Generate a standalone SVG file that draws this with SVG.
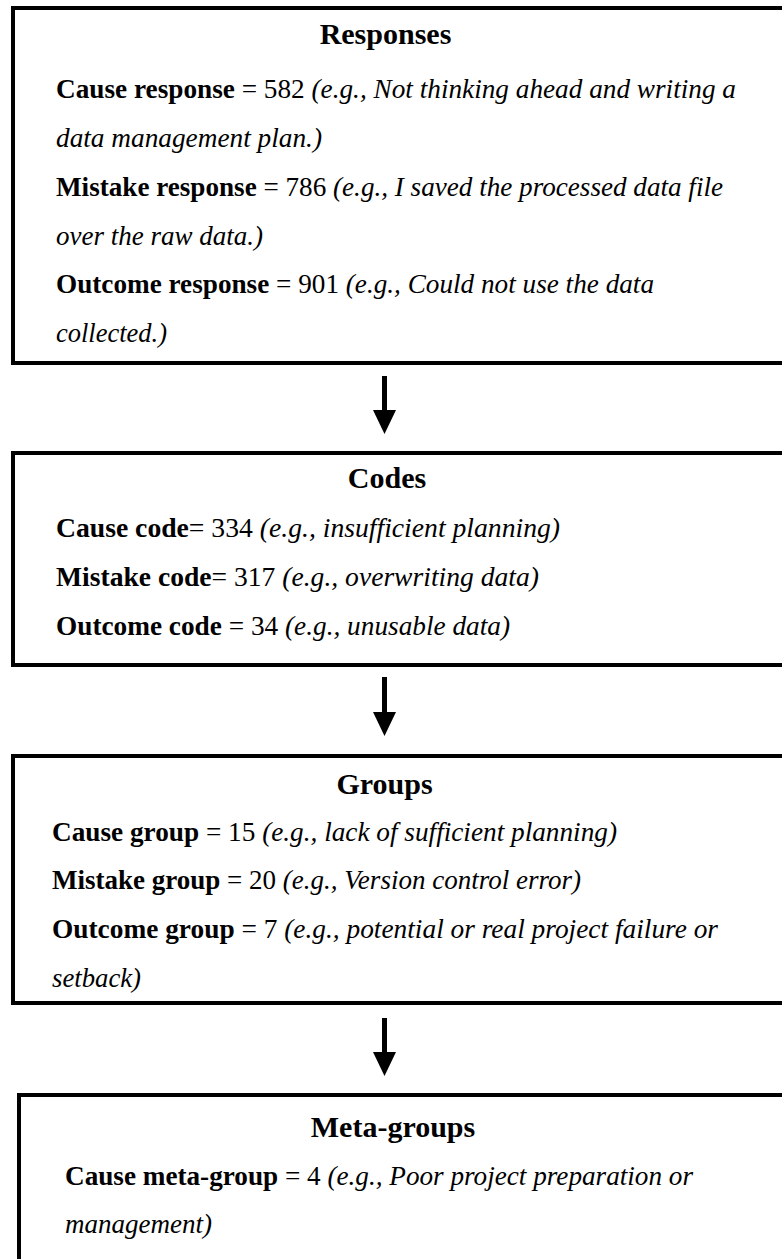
<svg xmlns="http://www.w3.org/2000/svg" width="782" height="1259" viewBox="0 0 782 1259">
<style>
.box{fill:#fff;stroke:#000;stroke-width:4}
.h{font-family:"Liberation Serif","Times New Roman",serif;font-size:30px;font-weight:bold;text-anchor:middle;fill:#000}
.t{font-family:"Liberation Serif","Times New Roman",serif;font-size:27px;fill:#000}
.b{font-weight:bold}
.i{font-style:italic}
.conn{stroke:#000;stroke-width:5;fill:none}
</style>
<defs>
<marker id="ah" markerUnits="userSpaceOnUse" viewBox="0 -12 24 24" markerWidth="24" markerHeight="24" refX="0" refY="0" orient="auto" overflow="visible">
<path d="M0,-11.5 L24,0 L0,11.5 Z" fill="#000"/>
</marker>
</defs>
<rect width="782" height="1259" fill="#fff"/>
<g id="responses">
<rect class="box" x="13" y="8" width="800" height="355"/>
<text class="h" x="385.5" y="44">Responses</text>
<text class="t" x="56" y="98" textLength="680" lengthAdjust="spacingAndGlyphs"><tspan class="b">Cause response</tspan> = 582 <tspan class="i">(e.g., Not thinking ahead and writing a</tspan></text>
<text class="t i" x="56" y="147" textLength="266" lengthAdjust="spacingAndGlyphs">data management plan.)</text>
<text class="t" x="56" y="196" textLength="667" lengthAdjust="spacingAndGlyphs"><tspan class="b">Mistake response</tspan> = 786 <tspan class="i">(e.g., I saved the processed data file</tspan></text>
<text class="t i" x="56" y="245" textLength="207" lengthAdjust="spacingAndGlyphs">over the raw data.)</text>
<text class="t" x="56" y="293" textLength="598" lengthAdjust="spacingAndGlyphs"><tspan class="b">Outcome response</tspan> = 901 <tspan class="i">(e.g., Could not use the data</tspan></text>
<text class="t i" x="56" y="342" textLength="111" lengthAdjust="spacingAndGlyphs">collected.)</text>
</g>
<g id="codes">
<rect class="box" x="13" y="453" width="800" height="212"/>
<text class="h" x="387" y="488">Codes</text>
<text class="t" x="56" y="537" textLength="504" lengthAdjust="spacingAndGlyphs"><tspan class="b">Cause code</tspan>= 334 <tspan class="i">(e.g., insufficient planning)</tspan></text>
<text class="t" x="56" y="586" textLength="483" lengthAdjust="spacingAndGlyphs"><tspan class="b">Mistake code</tspan>= 317 <tspan class="i">(e.g., overwriting data)</tspan></text>
<text class="t" x="56" y="635" textLength="454" lengthAdjust="spacingAndGlyphs"><tspan class="b">Outcome code</tspan> = 34 <tspan class="i">(e.g., unusable data)</tspan></text>
</g>
<g id="groups">
<rect class="box" x="13" y="756" width="800" height="247"/>
<text class="h" x="384.5" y="794">Groups</text>
<text class="t" x="52" y="841" textLength="565" lengthAdjust="spacingAndGlyphs"><tspan class="b">Cause group</tspan> = 15 <tspan class="i">(e.g., lack of sufficient planning)</tspan></text>
<text class="t" x="52" y="889" textLength="529" lengthAdjust="spacingAndGlyphs"><tspan class="b">Mistake group</tspan> = 20 <tspan class="i">(e.g., Version control error)</tspan></text>
<text class="t" x="52" y="938" textLength="666" lengthAdjust="spacingAndGlyphs"><tspan class="b">Outcome group</tspan> = 7 <tspan class="i">(e.g., potential or real project failure or</tspan></text>
<text class="t i" x="52" y="987" textLength="89" lengthAdjust="spacingAndGlyphs">setback)</text>
</g>
<g id="metagroups">
<rect class="box" x="19" y="1095" width="800" height="220"/>
<text class="h" x="393" y="1137">Meta-groups</text>
<text class="t" x="65" y="1185" textLength="628" lengthAdjust="spacingAndGlyphs"><tspan class="b">Cause meta-group</tspan> = 4 <tspan class="i">(e.g., Poor project preparation or</tspan></text>
<text class="t i" x="65" y="1233" textLength="147" lengthAdjust="spacingAndGlyphs">management)</text>
</g>
<g id="connectors">
<line class="conn" x1="384.5" y1="376" x2="384.5" y2="410" marker-end="url(#ah)"/>
<line class="conn" x1="384.5" y1="677" x2="384.5" y2="712" marker-end="url(#ah)"/>
<line class="conn" x1="384.5" y1="1018" x2="384.5" y2="1052" marker-end="url(#ah)"/>
</g>
</svg>
